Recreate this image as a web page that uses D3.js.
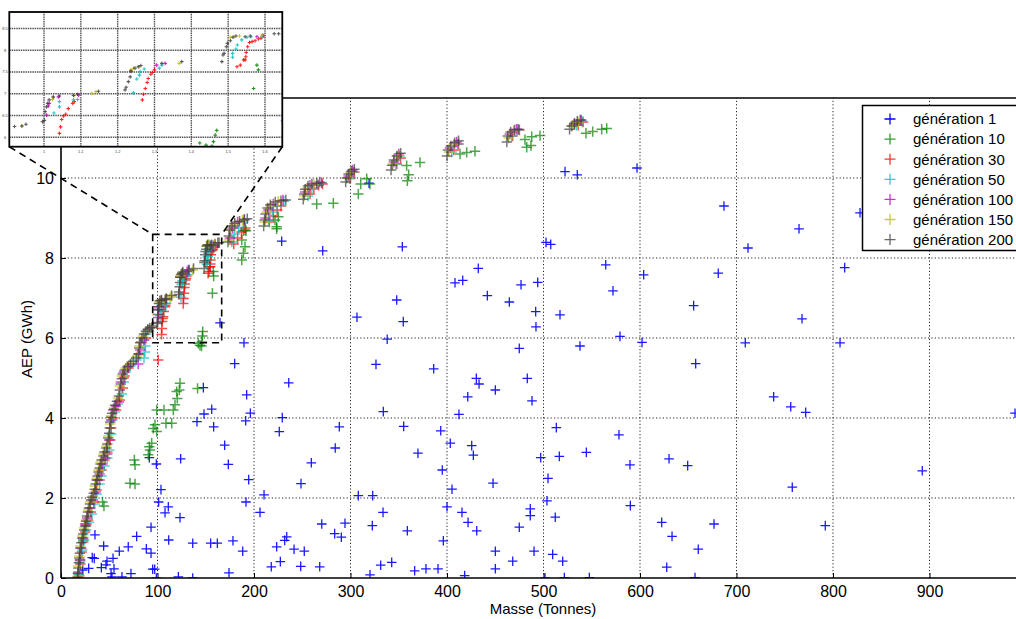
<!DOCTYPE html>
<html><head><meta charset="utf-8">
<script src="https://cdn.jsdelivr.net/npm/d3@7"></script>
<style>body{margin:0;background:#fff}svg{display:block;font-family:"Liberation Sans",Arial,sans-serif}</style>
</head><body><svg id="c" width="1016" height="619"></svg>
<script>
// ---------- data ----------
const xTicks = [0,100,200,300,400,500,600,700,800,900];
const yTicks = [0,2,4,6,8,10];
const insetXTicks = [100,110,120,130,140,150,160];
const insetXLabels = ["1","1.1","1.2","1.3","1.4","1.5","1.6"];
const insetYTicks = [6,6.5,7,7.5,8,8.5];
const seriesNames = ["génération 1","génération 10","génération 30","génération 50","génération 100","génération 150","génération 200"];
const seriesColors = ["#0000ff","#008000","#ff0000","#00bfbf","#bf00bf","#bfbf00","#404040"];

const gen1 = [[189.6,5.88],[180,5.36],[236,4.88],[326.4,5.34],[338,5.97],[147.5,4.76],[192.4,4.58],[148.2,4.10],[156.2,4.22],[196.2,4.12],[140.9,3.91],[158.2,3.78],[191.4,3.93],[229.3,4.01],[226.2,3.66],[288.4,3.78],[334,4.16],[169.6,3.32],[284.2,3.25],[124,2.98],[91.5,3.01],[98.8,2.85],[173.4,2.84],[259.4,2.88],[194.5,2.46],[248.7,2.36],[103.6,2.21],[210.4,2.08],[308.1,2.06],[323,2.06],[101.2,1.90],[111.2,1.78],[107.8,1.63],[191.7,1.90],[123.3,1.51],[206.2,1.64],[333.7,1.64],[93.3,1.27],[78.4,1.04],[111.6,0.95],[136.5,0.87],[155.1,0.87],[162,0.87],[178.2,0.93],[188.3,0.67],[270.2,1.35],[294.3,1.37],[283.6,1.11],[290.5,1.02],[322.6,1.31],[233.9,1.03],[231.8,0.94],[223.5,0.78],[241.5,0.72],[252.1,0.67],[227.3,0.41],[217.9,0.28],[248.4,0.29],[268.1,0.28],[320.2,0.08],[331.3,0.32],[88.4,0.73],[93.3,0.62],[69.7,0.78],[60.4,0.67],[44.2,0.80],[32.4,0.51],[34.5,0.49],[53.9,0.49],[47.7,0.42],[46.6,0.33],[41.8,0.26],[54.9,0.23],[72.5,0.11],[63.2,0.03],[52.8,0.03],[51.8,0.11],[95,0.22],[97.1,0.22],[98.8,0],[121.6,0.03],[136.5,0],[174.1,0.13],[28.7,0.24],[35.2,1.08],[22.5,0.2],
[474.9,5.74],[537.8,5.80],[579.3,6.04],[602.1,5.89],[657.7,5.36],[386.2,5.23],[430.4,4.99],[433.2,4.85],[483.2,4.99],[450.1,4.70],[421.5,4.53],[488.1,4.43],[412.4,4.09],[355.1,3.79],[393.5,3.68],[513.3,3.76],[578.2,3.58],[403.4,3.37],[425.6,3.31],[427.3,3.07],[369.9,3.12],[497.1,3.01],[516.4,3.04],[544.4,3.14],[589.6,2.83],[630.1,2.98],[649.4,2.81],[395.1,2.70],[504.7,2.49],[447.7,2.37],[405.2,2.22],[503.6,1.93],[400,1.78],[415.5,1.64],[486.3,1.73],[486.3,1.56],[512.2,1.52],[590,1.81],[421.8,1.39],[430.8,1.18],[474.9,1.27],[358.9,1.18],[622.5,1.39],[633.2,1.04],[676.7,1.35],[396.2,0.93],[450.1,0.67],[490.2,0.67],[660.4,0.72],[509.5,0.59],[519.9,0.42],[342.7,0.39],[468.1,0.42],[366.5,0.18],[378.2,0.23],[390.7,0.23],[450.1,0.23],[418.3,0.06],[501.6,0],[521.6,0.01],[547.5,0.01],[627.7,0.27],[657,0.01],
[709.1,5.88],[807.3,5.88],[738.5,4.53],[756.2,4.28],[771.7,4.14],[892.5,2.68],[757.8,2.27],[792,1.31],[988.6,4.12],
[228.7,8.42],[271.2,8.18],[353.7,8.28],[164.8,6.38],[319.2,9.87],[522.3,10.16],[535,10.08],[502.6,8.39],[507.5,8.34],[432.4,7.74],[408.3,7.38],[416.3,7.44],[441.8,7.06],[476.7,7.33],[494,7.39],[464.6,6.90],[491.9,6.66],[492.2,6.28],[517.1,6.58],[347.9,6.95],[354.7,6.41],[306.7,6.52],
[596.9,10.25],[687,9.30],[764.8,8.73],[711.9,8.25],[828,9.13],[564.5,7.83],[572,7.18],[603.8,7.58],[655.6,6.81],[681.1,7.62],[767.9,6.48],[812.1,7.76]];

const gen10 = [[18,0.1],[20,0.45],[23,0.95],[26,1.3],[43,1.9],[44.5,1.8],[71.5,2.37],[76.7,2.35],[76,2.95],[76.7,2.83],[90.5,3.08],[92.2,3.2],[91.5,3.28],[94,3.37],[95.6,3.74],[97.4,3.83],[99.2,3.66],[108.8,3.87],[114.7,3.87],[99.2,4.2],[106.7,4.2],[116.4,4.2],[118.1,4.33],[120.5,4.49],[119.9,4.66],[122.6,4.7],[123.3,4.87],[141.5,4.74],[142.3,5.87],[144,5.82],[145.6,5.8],[146,5.9],[146.5,6.05],[146.9,6.16],[156.9,7.12],[157.8,7.66],[158.2,7.55],
[187.3,7.95],[189,8.12],[190.7,8.28],[187.3,8.45],[190.7,8.7],[189,8.68],[191.7,8.68],[223.5,8.78],[221.8,8.95],[225.2,9.03],[223.5,8.73],[265,9.35],[282.2,9.37],[308.1,9.6],[310.6,9.85],[316.8,9.98],[320.2,9.85],[358.9,9.93],[360.3,10.08],[358.2,10.31],[372,10.39],[413.5,10.6],[420.4,10.64],[429,10.67],[480.8,10.96],[487.8,11.03],[496.4,11.06],[482.6,10.77],[487,10.81],[544,11.12],[551,11.16],[560.3,11.22],[565.5,11.24]];

const gen30 = [[19,0.05],[20,0.35],[21.5,0.65],[23,0.9],[25,1.15],[26.5,1.35],[28,1.45],[31,1.65],[34,1.9],[37,2.2],[40,2.45],[42,2.7],[45,2.95],[48,3.15],[51,3.45],[52,3.75],[54,4.0],[57,4.2],[61,4.45],[64,4.75],[65,5.0],[66,5.05],[70,5.25],[81,5.6],[100.8,5.45],[83,5.9],[88,6.0],
[104.2,6.09],[104.5,6.24],[104.8,6.41],[105.3,6.49],[105.9,6.53],[106.6,6.66],[107.8,6.78],[108.2,6.82],[126.7,6.86],[127,6.99],[127.5,7.12],[128,7.26],[128.3,7.35],[129,7.45],[129.4,7.49],[130,7.55],[152.4,7.62],[153.3,7.66],[154.2,7.78],[154.6,7.78],[154.8,7.85],[154.9,7.95],[155.3,8.08],[155.8,8.18],[156.5,8.2],[157.3,8.22],[158.2,8.26],[158.9,8.28],[159.6,8.33],
[179,8.35],[183,8.5],[187,8.65],[191,8.75],[216,8.9],[220,9.05],[224,9.2],[228,9.3],[258,9.6],[262,9.75],[267,9.82],[271,9.85],[300,10.0],[304,10.15],[348,10.35],[352,10.5],[407,10.7],[412,10.85],[468,11.05],[475,11.2],[536,11.32],[541,11.4]];

const gen50 = [[18.5,0.1],[20,0.4],[22,0.7],[24,0.95],[26,1.2],[29,1.4],[32,1.6],[35,1.85],[37,2.1],[40,2.35],[42,2.55],[45,2.8],[48,3.0],[50,3.2],[52,3.6],[53,3.95],[56,4.15],[59,4.35],[63,4.6],[65,4.9],[67,5.15],[72,5.3],[78,5.45],[86,5.5],[87,5.65],[87.5,5.8],[86,5.95],[88,6.1],
[102.7,6.56],[104.2,6.7],[104.2,6.82],[108,6.86],[109.1,6.87],[124.3,7.02],[125.2,7.34],[125.9,7.43],[126.1,7.51],[127.2,7.57],[131.3,7.59],[132,7.66],[151.2,7.84],[151.2,7.93],[152.1,8.03],[152.5,8.12],[153.7,8.24],[155.1,8.3],[156.2,8.31],[159.3,8.31],
[177,8.4],[180,8.6],[184,8.75],[189,8.9],[215,8.95],[219,9.15],[224,9.3],[231,9.42],[256,9.55],[260,9.72],[266,9.83],[299,9.98],[303,10.15],[347,10.35],[351,10.55],[405,10.65],[411,10.85],[467,11.05],[473,11.2],[534,11.32],[540,11.42]];

const gen100 = [[18,0.15],[19.5,0.45],[21,0.75],[23,1.0],[25,1.35],[27,1.5],[30,1.75],[33,1.95],[36,2.15],[38,2.45],[40,2.6],[43,2.85],[46,3.0],[48,3.1],[50,3.45],[52,3.95],[54,4.2],[57,4.3],[60,4.4],[62,4.9],[65,5.15],[70,5.3],[80,5.35],[82,5.7],[86,5.95],
[100.7,6.51],[101.2,6.72],[101.4,6.78],[103.9,6.93],[109.4,6.97],[123.6,7.52],[130.6,7.66],[132.9,7.7],[157.8,8.31],[159.4,8.35],
[175,8.5],[178,8.75],[183,8.9],[190,8.97],[212,9.0],[215,9.2],[220,9.35],[230,9.45],[253,9.65],[258,9.82],[268,9.9],[298,10.05],[302,10.2],[345,10.4],[350,10.6],[403,10.75],[410,10.9],[465,11.1],[472,11.22],[532,11.35],[538,11.45]];

const gen150 = [[17.5,0.05],[18,0.3],[19,0.55],[20,0.8],[22,1.05],[24,1.25],[26,1.45],[28,1.7],[30,1.9],[33,2.05],[35,2.3],[37,2.5],[39,2.7],[41,2.9],[44,3.1],[47,3.3],[49,3.55],[51,3.85],[52,4.05],[55,4.25],[59,4.5],[61,4.8],[63,5.05],[67,5.25],[73,5.4],[79,5.55],[81,5.8],[85,6.05],[90,6.2],
[94,6.26],[102.3,6.87],[102.5,6.91],[108.2,6.96],[113,7.01],[114.1,7.05],[123.6,7.55],[124.3,7.59],[125.9,7.62],[136.7,7.7],[150.6,8.3],[151.5,8.31],[153.1,8.33],[159.2,8.35],
[174,8.45],[176,8.7],[180,8.85],[188,8.95],[211,8.9],[213,9.15],[217,9.3],[225,9.42],[252,9.55],[255,9.75],[262,9.85],[297,10.0],[300,10.15],[344,10.35],[349,10.55],[402,10.65],[407,10.85],[464,11.0],[469,11.18],[530,11.3],[536,11.4]];

const gen200 = [[17,0.02],[17.5,0.12],[18,0.25],[18.5,0.38],[19,0.5],[19.5,0.62],[20,0.75],[21,0.88],[22,1.0],[23,1.1],[24,1.2],[25,1.3],[26,1.42],[27,1.55],[28,1.65],[29,1.75],[30,1.85],[31,1.95],[32,2.02],[34,2.12],[35,2.22],[36,2.35],[37,2.45],[38,2.55],[39,2.65],[40,2.75],[41,2.85],[42,2.95],[44,3.05],[45,3.15],[47,3.25],[48,3.35],[49,3.5],[50,3.62],[50.5,3.75],[51,3.9],[52,4.02],[53,4.12],[55,4.22],[56,4.32],[58,4.42],[60,4.55],[61,4.7],[62,4.85],[63,4.98],[64,5.1],[66,5.2],[69,5.28],[72,5.35],[75,5.42],[78,5.5],[80,5.6],[81,5.75],[82,5.88],[84,6.0],[86,6.1],[88,6.17],[90,6.22],[92,6.25],
[94,6.26],[95.1,6.3],[99.6,6.36],[100.1,6.39],[100.3,6.59],[100.7,6.7],[101,6.78],[101.4,6.86],[102.5,6.93],[104.2,6.95],[108,6.96],[109.1,6.99],[114.8,7.06],[122,7.09],[122.3,7.15],[122.9,7.28],[123.4,7.39],[123.6,7.52],[124.7,7.59],[125.6,7.62],[126.3,7.65],[132,7.7],[137.4,7.74],[148.3,7.74],[148.6,7.89],[148.9,7.93],[149.5,8.08],[149.8,8.16],[150.6,8.22],[151.3,8.3],[152.1,8.33],[154.6,8.31],[156,8.33],[162.5,8.38],[163.7,8.38],
[173,8.4],[174,8.55],[175,8.7],[177,8.8],[180,8.87],[185,8.92],[190,8.95],[193,8.98],[210,8.8],[211,8.95],[212,9.1],[214,9.25],[217,9.33],[222,9.4],[228,9.43],[233,9.45],[251,9.47],[252,9.6],[253,9.72],[256,9.8],[260,9.85],[265,9.87],[270,9.88],[295,9.9],[296,10.0],[298,10.1],[301,10.17],[304,10.22],[342,10.2],[343,10.32],[345,10.45],[348,10.55],[352,10.62],[400,10.55],[401,10.7],[404,10.8],[408,10.88],[412,10.93],[462,10.9],[463,11.05],[466,11.15],[470,11.2],[474,11.22],[527,11.22],[529,11.3],[532,11.37],[535,11.42],[539,11.45]];

const allSeries = [gen1,gen10,gen30,gen50,gen100,gen150,gen200];

// ---------- drawing ----------
const svg = d3.select("#c");
const W = 1016, H = 619;
svg.append("rect").attr("width",W).attr("height",H).attr("fill","#fff");

const x = d3.scaleLinear().domain([0,1000]).range([61,1026]);
const y = d3.scaleLinear().domain([0,12]).range([578,98]);

const defs = svg.append("defs");
defs.append("clipPath").attr("id","mainClip").append("rect")
  .attr("x",x(0)).attr("y",y(12)).attr("width",x(1000)-x(0)).attr("height",y(0)-y(12));

// grid
const grid = svg.append("g").attr("stroke","#000").attr("stroke-width",1).attr("stroke-dasharray","1.2,2.2").attr("opacity",0.85);
xTicks.filter(d=>d>0).forEach(d=>grid.append("line").attr("x1",x(d)).attr("x2",x(d)).attr("y1",y(0)).attr("y2",y(12)));
yTicks.filter(d=>d>0).forEach(d=>grid.append("line").attr("x1",x(0)).attr("x2",W).attr("y1",y(d)).attr("y2",y(d)));

const plus = s => `M${-s},0H${s}M0,${-s}V${s}`;

const pts = svg.append("g").attr("clip-path","url(#mainClip)");
allSeries.forEach((data,i)=>{
  const g = pts.append("g");
  g.selectAll("path").data(data).join("path")
    .attr("d", plus(i===0?4.8:5.2))
    .attr("transform", d=>`translate(${x(d[0])},${y(d[1])})`)
    .attr("fill","none")
    .attr("stroke", seriesColors[i])
    .attr("stroke-width", i===0?1.3:1.5)
    .attr("stroke-opacity", i===0?0.9:0.7);
});

// axes
const xAxis = d3.axisBottom(x).tickValues(xTicks).tickSizeInner(-5).tickSizeOuter(0).tickPadding(8);
const yAxis = d3.axisLeft(y).tickValues(yTicks).tickSizeInner(-5).tickSizeOuter(0).tickPadding(7);
const gx = svg.append("g").attr("transform",`translate(0,${y(0)})`).call(xAxis);
const gy = svg.append("g").attr("transform",`translate(${x(0)},0)`).call(yAxis);
[gx,gy].forEach(g=>{
  g.select(".domain").remove();
  g.selectAll("text").attr("font-size",16).attr("fill","#000").attr("font-family","Liberation Sans, Arial, sans-serif");
  g.selectAll("line").attr("stroke","#000").attr("stroke-width",1);
});
// frame
svg.append("line").attr("x1",x(0)).attr("x2",W).attr("y1",y(0)).attr("y2",y(0)).attr("stroke","#000").attr("stroke-width",1.6);
svg.append("line").attr("x1",x(0)).attr("x2",x(0)).attr("y1",y(0)).attr("y2",y(12)).attr("stroke","#000").attr("stroke-width",1.6);
svg.append("line").attr("x1",x(0)).attr("x2",W).attr("y1",y(12)).attr("y2",y(12)).attr("stroke","#000").attr("stroke-width",1.6);

svg.append("text").attr("x",543).attr("y",614).attr("text-anchor","middle").attr("font-size",15).text("Masse (Tonnes)");
svg.append("text").attr("transform","translate(32,339) rotate(-90)").attr("text-anchor","middle").attr("font-size",15).text("AEP (GWh)");

// zoom rectangle in main plot
const zx0=95, zx1=166.5, zy0=5.88, zy1=8.59;
svg.append("rect").attr("x",x(zx0)).attr("y",y(zy1)).attr("width",x(zx1)-x(zx0)).attr("height",y(zy0)-y(zy1))
  .attr("fill","none").attr("stroke","#000").attr("stroke-width",1.6).attr("stroke-dasharray","7,5");

// inset
const ix = d3.scaleLinear().domain([90.58,164.7]).range([9.3,282.3]);
const iy = d3.scaleLinear().domain([5.784,8.88]).range([146.7,12]);
// connectors
svg.append("line").attr("x1",ix.range()[0]).attr("y1",iy.range()[0]).attr("x2",x(zx0)).attr("y2",y(zy1))
  .attr("stroke","#000").attr("stroke-width",1.6).attr("stroke-dasharray","7,5");
svg.append("line").attr("x1",ix.range()[1]).attr("y1",iy.range()[0]).attr("x2",x(zx1)).attr("y2",y(zy1))
  .attr("stroke","#000").attr("stroke-width",1.6).attr("stroke-dasharray","7,5");

const inset = svg.append("g");
defs.append("clipPath").attr("id","insetClip").append("rect")
  .attr("x",ix.range()[0]).attr("y",iy.range()[1]).attr("width",ix.range()[1]-ix.range()[0]).attr("height",iy.range()[0]-iy.range()[1]);
inset.append("rect").attr("x",ix.range()[0]).attr("y",iy.range()[1]).attr("width",ix.range()[1]-ix.range()[0]).attr("height",iy.range()[0]-iy.range()[1]).attr("fill","#fff");
const ig = inset.append("g").attr("stroke","#555").attr("stroke-width",1.4).attr("stroke-dasharray","1.5,0.8");
insetXTicks.forEach(d=>ig.append("line").attr("x1",ix(d)).attr("x2",ix(d)).attr("y1",iy.range()[0]).attr("y2",iy.range()[1]));
insetYTicks.forEach(d=>ig.append("line").attr("y1",iy(d)).attr("y2",iy(d)).attr("x1",ix.range()[0]).attr("x2",ix.range()[1]));
const ip = inset.append("g").attr("clip-path","url(#insetClip)");
allSeries.forEach((data,i)=>{
  ip.append("g").selectAll("path").data(data).join("path")
    .attr("d", plus(1.8))
    .attr("transform", d=>`translate(${ix(d[0])},${iy(d[1])})`)
    .attr("fill","none").attr("stroke",seriesColors[i]).attr("stroke-width",1.1).attr("stroke-opacity",0.85);
});
inset.append("rect").attr("x",ix.range()[0]).attr("y",iy.range()[1]).attr("width",ix.range()[1]-ix.range()[0]).attr("height",iy.range()[0]-iy.range()[1])
  .attr("fill","none").attr("stroke","#000").attr("stroke-width",1.8);
insetXTicks.forEach((d,i)=>inset.append("text").attr("x",ix(d)).attr("y",152.5).attr("text-anchor","middle").attr("font-size",4).attr("fill","#444").text(insetXLabels[i]));
insetYTicks.forEach(d=>inset.append("text").attr("x",5).attr("y",iy(d)+1.4).attr("text-anchor","middle").attr("font-size",4).attr("fill","#444").text(d));

// legend
const lg = svg.append("g");
lg.append("rect").attr("x",862.5).attr("y",105.5).attr("width",200).attr("height",145).attr("fill","#fff").attr("stroke","#000").attr("stroke-width",1.5);
seriesNames.forEach((name,i)=>{
  const cy = 119 + i*20.1;
  lg.append("path").attr("d",plus(5.5)).attr("transform",`translate(890,${cy})`).attr("stroke",seriesColors[i]).attr("stroke-width",1.3).attr("fill","none").attr("stroke-opacity",i===0?1:0.8);
  lg.append("text").attr("x",913).attr("y",cy+5.3).attr("font-size",15).attr("fill","#000").text(name);
});
</script></body></html>
